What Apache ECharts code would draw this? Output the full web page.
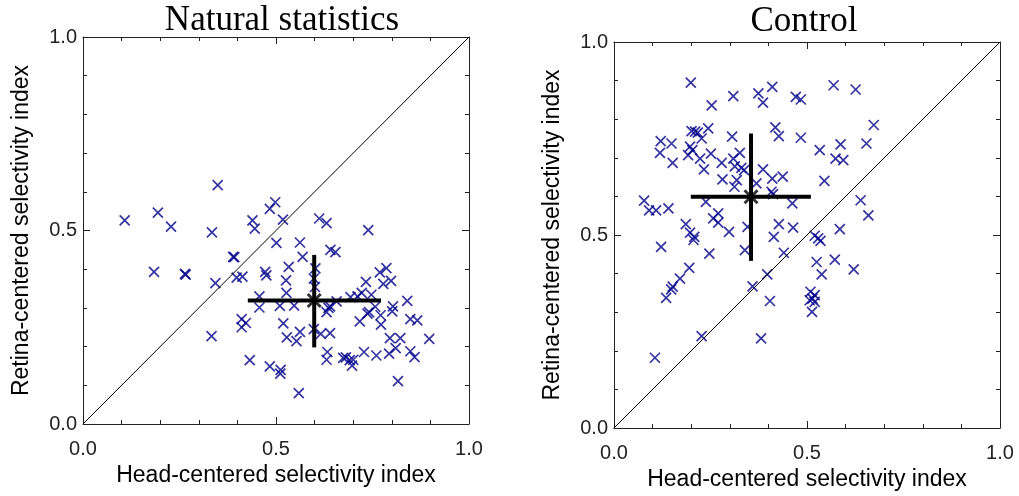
<!DOCTYPE html>
<html>
<head>
<meta charset="utf-8">
<script src="https://cdn.jsdelivr.net/npm/echarts@6/dist/echarts.min.js"></script>
<style>
  html, body { margin: 0; padding: 0; background: #fff; }
  #main { width: 1019px; height: 496px; }
</style>
</head>
<body>
<div id="main"></div>
<script>
  // panel titles and axis names
  var titles = ['Natural statistics', 'Control'];
  var xName = 'Head-centered selectivity index';
  var yName = 'Retina-centered selectivity index';
  var tickLabels = ['0.0', '0.5', '1.0'];

  // natural statistics panel
  var natX = [0.108, 0.194, 0.228, 0.349, 0.334, 0.184, 0.264, 0.266, 0.343, 0.333, 0.389, 0.392, 0.398, 0.413, 0.439, 0.445,
    0.484, 0.498, 0.518, 0.501, 0.472, 0.475, 0.533, 0.562, 0.569, 0.526, 0.527, 0.457, 0.457, 0.510, 0.547, 0.411, 0.422,
    0.411, 0.519, 0.528, 0.562, 0.553, 0.432, 0.484, 0.512, 0.511, 0.559, 0.612, 0.631, 0.641, 0.654, 0.739, 0.602, 0.598,
    0.598, 0.616, 0.640, 0.633, 0.631, 0.636, 0.640, 0.631, 0.657, 0.693, 0.681, 0.691, 0.700, 0.697, 0.674, 0.728, 0.760,
    0.717, 0.737, 0.741, 0.722, 0.733, 0.747, 0.769, 0.786, 0.778, 0.798, 0.757, 0.771, 0.772, 0.803, 0.801, 0.840, 0.848,
    0.866, 0.795, 0.822, 0.810, 0.793, 0.848, 0.859, 0.897, 0.816, 0.601, 0.711];
  var natY = [0.526, 0.546, 0.510, 0.617, 0.495, 0.393, 0.388, 0.386, 0.364, 0.227, 0.432, 0.431, 0.378, 0.381, 0.526, 0.505,
    0.556, 0.573, 0.528, 0.468, 0.393, 0.384, 0.406, 0.469, 0.432, 0.371, 0.339, 0.330, 0.301, 0.305, 0.306, 0.271, 0.261,
    0.250, 0.260, 0.224, 0.238, 0.214, 0.165, 0.149, 0.140, 0.130, 0.080, 0.531, 0.519, 0.450, 0.444, 0.501, 0.402, 0.376,
    0.245, 0.233, 0.235, 0.186, 0.166, 0.300, 0.304, 0.289, 0.317, 0.328, 0.172, 0.165, 0.166, 0.151, 0.171, 0.186, 0.177,
    0.265, 0.285, 0.289, 0.339, 0.367, 0.334, 0.392, 0.403, 0.362, 0.370, 0.303, 0.281, 0.257, 0.304, 0.291, 0.318, 0.271,
    0.268, 0.222, 0.222, 0.196, 0.182, 0.188, 0.173, 0.220, 0.111, 0.354, 0.330];
  var natMean = [0.599, 0.319];
  var natXRange = [0.427, 0.772];
  var natYRange = [0.198, 0.437];

  // control panel
  var ctlX = [0.199, 0.309, 0.374, 0.386, 0.410, 0.253, 0.471, 0.484, 0.569, 0.626, 0.673, 0.654, 0.587, 0.574, 0.594, 0.533,
    0.545, 0.484, 0.418, 0.427, 0.306, 0.244, 0.201, 0.210, 0.217, 0.227, 0.121, 0.149, 0.119, 0.197, 0.203, 0.192, 0.223,
    0.152, 0.251, 0.233, 0.279, 0.309, 0.326, 0.313, 0.330, 0.337, 0.281, 0.318, 0.312, 0.369, 0.386, 0.410, 0.437, 0.408,
    0.412, 0.462, 0.078, 0.091, 0.109, 0.141, 0.238, 0.270, 0.257, 0.270, 0.186, 0.197, 0.208, 0.206, 0.298, 0.346, 0.427,
    0.464, 0.414, 0.122, 0.247, 0.339, 0.440, 0.195, 0.171, 0.152, 0.148, 0.135, 0.359, 0.397, 0.404, 0.520, 0.529, 0.535,
    0.585, 0.525, 0.538, 0.572, 0.621, 0.639, 0.659, 0.509, 0.520, 0.514, 0.507, 0.520, 0.513, 0.227, 0.381, 0.106];
  var ctlY = [0.895, 0.860, 0.867, 0.843, 0.884, 0.836, 0.858, 0.851, 0.888, 0.877, 0.785, 0.737, 0.735, 0.698, 0.694, 0.720,
    0.640, 0.752, 0.779, 0.756, 0.755, 0.776, 0.769, 0.768, 0.765, 0.750, 0.743, 0.737, 0.713, 0.729, 0.720, 0.707, 0.698,
    0.687, 0.711, 0.670, 0.687, 0.698, 0.713, 0.678, 0.674, 0.668, 0.644, 0.642, 0.625, 0.634, 0.670, 0.646, 0.651, 0.612,
    0.606, 0.582, 0.589, 0.564, 0.564, 0.569, 0.586, 0.556, 0.543, 0.532, 0.528, 0.506, 0.495, 0.487, 0.508, 0.521, 0.528,
    0.519, 0.495, 0.469, 0.452, 0.461, 0.454, 0.415, 0.387, 0.366, 0.359, 0.337, 0.367, 0.398, 0.329, 0.498, 0.491, 0.485,
    0.515, 0.430, 0.398, 0.436, 0.411, 0.590, 0.551, 0.353, 0.344, 0.335, 0.331, 0.327, 0.301, 0.238, 0.232, 0.182];
  var ctlMean = [0.355, 0.599];
  var ctlXRange = [0.199, 0.510];
  var ctlYRange = [0.433, 0.763];

  var diag = [[0, 0], [1, 1]];

  var crossPath = 'path://M0,0L10,10M10,0L0,10';
  var frameColor = '#222';
  var numFont = 'Liberation Sans';

  function zip(xs, ys) {
    return xs.map(function (x, i) { return [x, ys[i]]; });
  }

  function fmt(v) {
    return tickLabels[Math.round(v * 2)];
  }

  // one axis of the box; side = bottom / top / left / right
  function boxAxis(grid, side) {
    var isX = side == 'bottom' || side == 'top';
    var main = side == 'bottom' || side == 'left';
    var ax = {
      type: 'value', gridIndex: grid, min: 0, max: 1, interval: 0.5, position: side,
      axisLine: { show: true, onZero: false, lineStyle: { color: frameColor, width: 1 } },
      axisTick: { show: true, inside: true, length: 7, lineStyle: { color: frameColor } },
      minorTick: { show: true, splitNumber: 5, length: 4, lineStyle: { color: frameColor } },
      axisLabel: { show: false },
      splitLine: { show: false }
    };
    if (main) {
      ax.axisLabel = {
        show: true, margin: isX ? 15 : 6, fontFamily: numFont, fontSize: 20, color: '#222',
        formatter: fmt
      };
      ax.name = isX ? xName : yName;
      ax.nameLocation = 'middle';
      ax.nameGap = isX ? 40 : 50;
      if (!isX) ax.nameRotate = 90;
      ax.nameTextStyle = { fontFamily: numFont, fontSize: 23, color: '#000' };
    }
    return ax;
  }

  function panelSeries(ax, xs, ys, mean, xr, yr) {
    return [{
      type: 'line', xAxisIndex: ax, yAxisIndex: ax, data: diag,
      symbol: 'none', silent: true,
      lineStyle: { color: '#000', width: 1 }
    }, {
      type: 'scatter', xAxisIndex: ax, yAxisIndex: ax, data: zip(xs, ys),
      symbol: crossPath, symbolSize: 10,
      itemStyle: { color: 'rgba(0,0,0,0)', borderColor: '#00008b', borderWidth: 1.7 }
    }, {
      type: 'line', xAxisIndex: ax, yAxisIndex: ax,
      data: [[xr[0], mean[1]], [xr[1], mean[1]]],
      symbol: 'none', lineStyle: { color: '#000', width: 4 }, z: 5
    }, {
      type: 'line', xAxisIndex: ax, yAxisIndex: ax,
      data: [[mean[0], yr[0]], [mean[0], yr[1]]],
      symbol: 'none', lineStyle: { color: '#000', width: 4 }, z: 5
    }, {
      type: 'scatter', xAxisIndex: ax, yAxisIndex: ax, data: [mean],
      symbol: crossPath, symbolSize: 13, z: 6,
      itemStyle: { color: 'rgba(0,0,0,0)', borderColor: '#000', borderWidth: 3 }
    }];
  }

  var myChart = echarts.init(document.getElementById('main'));

  var titleStyle = { fontFamily: 'Liberation Serif', fontWeight: 'normal', fontSize: 35, color: '#000' };

  var options = {
    backgroundColor: '#fff',
    animation: false,
    title: [
      { text: titles[0], left: 277, top: -2, textAlign: 'center', textStyle: titleStyle },
      { text: titles[1], left: 799, top: -1, textAlign: 'center', textStyle: titleStyle }
    ],
    grid: [
      { left: 83, top: 37, width: 386, height: 387 },
      { left: 614, top: 42, width: 386, height: 386 }
    ],
    xAxis: [boxAxis(0, 'bottom'), boxAxis(0, 'top'), boxAxis(1, 'bottom'), boxAxis(1, 'top')],
    yAxis: [boxAxis(0, 'left'), boxAxis(0, 'right'), boxAxis(1, 'left'), boxAxis(1, 'right')],
    series: []
      .concat(panelSeries(0, natX, natY, natMean, natXRange, natYRange))
      .concat(panelSeries(2, ctlX, ctlY, ctlMean, ctlXRange, ctlYRange))
  };

  myChart.setOption(options);
</script>
</body>
</html>
